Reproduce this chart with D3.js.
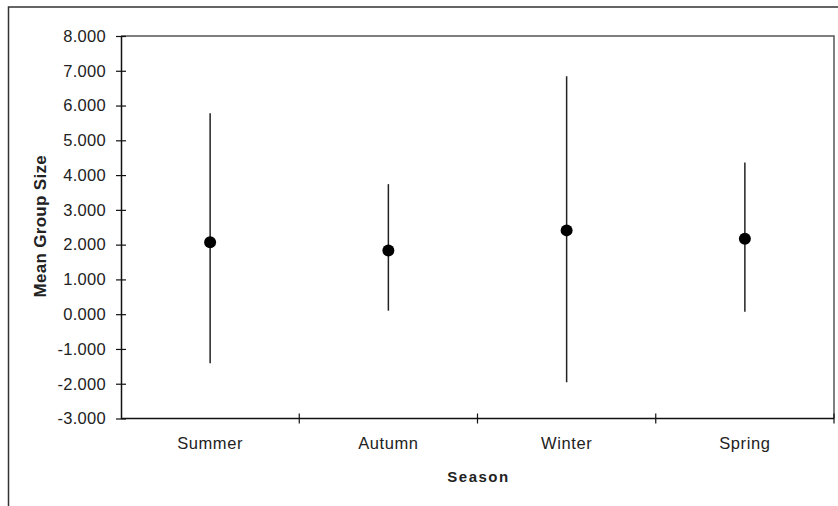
<!DOCTYPE html>
<html>
<head>
<meta charset="utf-8">
<script src="https://cdn.jsdelivr.net/npm/d3@7"></script>
<style>
  html, body { margin: 0; padding: 0; background: #fff; }
  svg { display: block; }
  text { font-family: "Liberation Sans", Arial, sans-serif; fill: #222; }
</style>
</head>
<body>
<svg id="chart" width="838" height="506"></svg>
<script>
// Seasons and the mean group size with its lower / upper limits
const seasons = ["Summer", "Autumn", "Winter", "Spring"];
const means   = [2.07, 1.83, 2.41, 2.17];
const lows    = [-1.41, 0.10, -1.96, 0.07];
const highs   = [5.78, 3.74, 6.84, 4.36];
const yTicks  = [-3, -2, -1, 0, 1, 2, 3, 4, 5, 6, 7, 8];

const W = 838, H = 506;
const m = { left: 121, right: 4, top: 36, bottom: 87.5 };
const svg = d3.select("#chart");

const x = d3.scaleBand().domain(seasons).range([m.left, W - m.right]);
const y = d3.scaleLinear().domain([-3, 8]).range([H - m.bottom, m.top]);

// fixed three decimals with a plain hyphen for negatives
const fmt = d => d3.format(".3f")(d).replace("\u2212", "-");

// outer chart frame (left and top edges visible)
svg.append("path")
  .attr("d", `M8.5,${H} V7 H${W}`)
  .attr("fill", "none").attr("stroke", "#333").attr("stroke-width", 1.5);

// plot area frame: top and right edges
svg.append("path")
  .attr("d", `M${m.left},${m.top} H${W - m.right} V${H - m.bottom}`)
  .attr("fill", "none").attr("stroke", "#555").attr("stroke-width", 1.5);

// y axis
const yAxis = svg.append("g").attr("transform", `translate(${m.left},0)`)
  .call(d3.axisLeft(y).tickValues(yTicks).tickFormat(fmt)
    .tickSizeInner(5).tickSizeOuter(0).tickPadding(10));
yAxis.select(".domain").attr("stroke", "#111").attr("stroke-width", 1.5);
yAxis.selectAll(".tick line").attr("x2", 5).attr("x1", -5).attr("stroke", "#111").attr("stroke-width", 1.2);
yAxis.selectAll(".tick text")
  .attr("x", -15)
  .style("font-size", "16.5px").style("letter-spacing", "0.3px").attr("fill", "#333");

// x axis with ticks at the band boundaries
const xAxis = svg.append("g").attr("transform", `translate(0,${H - m.bottom})`);
xAxis.append("line")
  .attr("x1", m.left).attr("x2", W - m.right)
  .attr("stroke", "#111").attr("stroke-width", 1.5);
const bounds = seasons.map(s => x(s) + x.bandwidth());
xAxis.selectAll("line.bt").data(bounds).join("line").attr("class", "bt")
  .attr("x1", d => d).attr("x2", d => d).attr("y1", -5).attr("y2", 5)
  .attr("stroke", "#111").attr("stroke-width", 1.2);
xAxis.selectAll("text").data(seasons).join("text")
  .attr("x", d => x(d) + x.bandwidth() / 2)
  .attr("y", 30)
  .attr("text-anchor", "middle")
  .style("font-size", "16.5px").style("letter-spacing", "0.6px").attr("fill", "#333")
  .text(d => d);

// axis titles
svg.append("text")
  .attr("transform", `translate(46,${(m.top + H - m.bottom) / 2 - 1}) rotate(-90)`)
  .attr("text-anchor", "middle")
  .style("font-size", "17px").style("font-weight", "bold").style("letter-spacing", "0.3px").attr("fill", "#111")
  .text("Mean Group Size");
svg.append("text")
  .attr("x", (m.left + W - m.right) / 2 + 1).attr("y", 482)
  .attr("text-anchor", "middle")
  .style("font-size", "15px").style("font-weight", "bold").style("letter-spacing", "1.5px").attr("fill", "#111")
  .text("Season");

// range lines and mean markers
const rows = seasons.map((s, i) => ({ s, mean: means[i], lo: lows[i], hi: highs[i] }));
const g = svg.append("g");
g.selectAll("line.rng").data(rows).join("line").attr("class", "rng")
  .attr("x1", d => x(d.s) + x.bandwidth() / 2).attr("x2", d => x(d.s) + x.bandwidth() / 2)
  .attr("y1", d => y(d.lo)).attr("y2", d => y(d.hi))
  .attr("stroke", "#222").attr("stroke-width", 1.5);
g.selectAll("circle").data(rows).join("circle")
  .attr("cx", d => x(d.s) + x.bandwidth() / 2)
  .attr("cy", d => y(d.mean))
  .attr("r", 6).attr("fill", "#000");
</script>
</body>
</html>
